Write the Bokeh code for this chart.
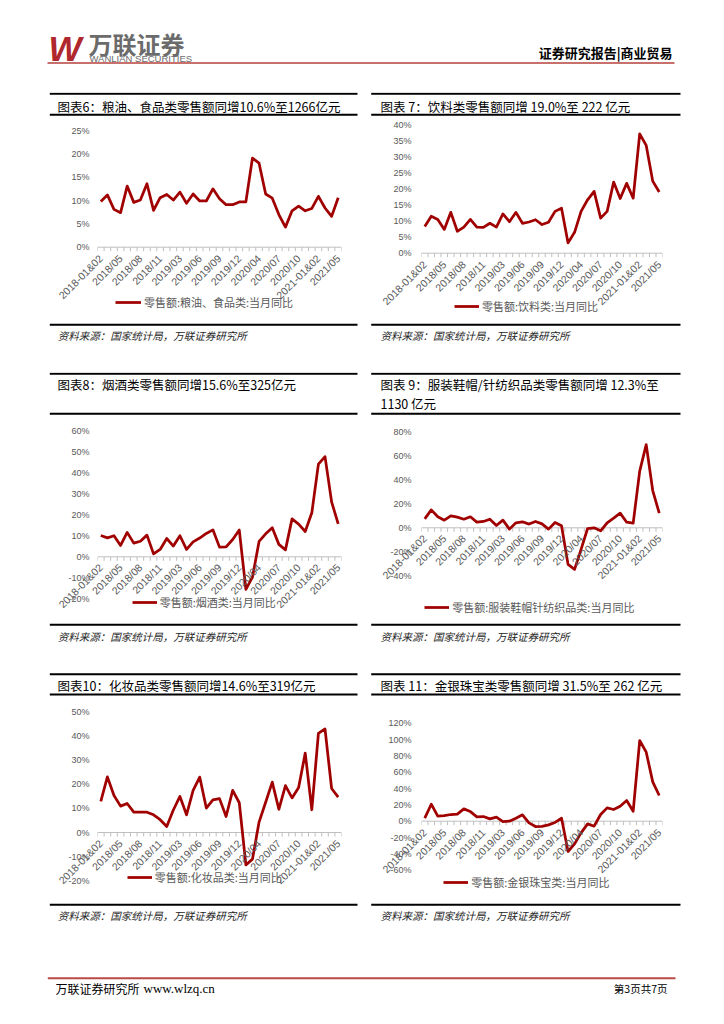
from math import pi
from bokeh.plotting import figure
from bokeh.models import (Range1d, FixedTicker, PrintfTickFormatter, Span)
from bokeh.layouts import column, row
from bokeh.core.properties import value
from bokeh.embed import file_html
from bokeh.resources import INLINE

# ---------------- data ----------------
categories = [
    "2018-01&02", "2018/03", "2018/04", "2018/05", "2018/06", "2018/07", "2018/08",
    "2018/09", "2018/10", "2018/11", "2018/12",
    "2019-01&02", "2019/03", "2019/04", "2019/05", "2019/06", "2019/07", "2019/08",
    "2019/09", "2019/10", "2019/11", "2019/12",
    "2020-01&02", "2020/03", "2020/04", "2020/05", "2020/06", "2020/07", "2020/08",
    "2020/09", "2020/10", "2020/11", "2020/12",
    "2021-01&02", "2021/03", "2021/04", "2021/05",
]
tick_labels = ["2018-01&02", "2018/05", "2018/08", "2018/11", "2019/03", "2019/06",
               "2019/09", "2019/12", "2020/04", "2020/07", "2020/10", "2021-01&02", "2021/05"]

food = [9.8, 11.2, 8.1, 7.4, 13.1, 9.6, 10.1, 13.6, 7.9, 10.6, 11.3, 10.1, 11.8, 9.4,
        11.4, 9.9, 9.9, 12.5, 10.4, 9.1, 9.1, 9.7, 9.7, 19.1, 18.0, 11.4, 10.5, 7.0,
        4.3, 7.8, 8.8, 7.8, 8.3, 10.9, 8.4, 6.6, 10.6]
beverage = [8.3, 11.5, 10.5, 7.4, 12.7, 6.8, 8.1, 10.5, 8.1, 8.0, 9.3, 8.1, 12.2, 9.8,
            12.7, 9.3, 9.7, 10.4, 8.9, 9.6, 13.0, 14.0, 3.2, 6.5, 13.0, 16.6, 19.2,
            10.9, 13.0, 22.1, 17.0, 21.7, 17.1, 37.1, 33.5, 22.4, 19.0]
tobacco = [10.1, 9.0, 10.0, 5.4, 11.6, 6.5, 7.4, 10.3, 1.4, 3.5, 8.7, 5.1, 10.0, 3.5,
           7.1, 8.9, 11.1, 12.8, 4.6, 4.7, 8.2, 12.7, -15.5, -9.7, 7.3, 10.9, 13.8,
           5.9, 3.3, 18.0, 15.5, 12.0, 20.9, 44.0, 47.6, 26.1, 15.6]
apparel = [7.5, 15.0, 9.2, 6.4, 10.0, 8.9, 7.2, 9.2, 4.7, 5.3, 7.2, 1.9, 6.4, -1.1,
           4.2, 5.0, 3.1, 5.3, 3.3, -1.1, 4.5, 1.7, -30.6, -34.8, -18.0, -0.6, 0.0,
           -2.5, 4.2, 8.1, 12.3, 4.7, 3.9, 47.4, 69.6, 31.2, 12.3]
cosmetics = [12.9, 23.0, 15.3, 10.9, 12.0, 8.4, 8.4, 8.4, 7.3, 5.3, 2.5, 9.3, 14.9, 7.3,
             17.4, 22.9, 10.1, 13.5, 14.0, 6.6, 17.4, 12.3, -13.4, -11.0, 4.3, 12.5,
             20.8, 9.6, 19.4, 14.3, 18.6, 32.8, 9.4, 41.0, 42.8, 18.2, 14.6]
jewelry = [3.7, 20.8, 6.1, 6.9, 8.2, 8.6, 15.1, 11.8, 5.3, 5.7, 2.9, 4.9, -0.4, 0.0,
           3.7, 7.8, -2.0, -6.5, -6.3, -4.5, -1.5, 3.6, -37.1, -27.8, -14.3, -3.3,
           -6.1, 8.2, 16.3, 14.3, 18.4, 25.3, 12.2, 98.8, 84.5, 48.2, 31.5]

titles = {
    6: "图表6：粮油、食品类零售额同增10.6%至1266亿元",
    7: "图表 7：饮料类零售额同增 19.0%至 222 亿元",
    8: "图表8：烟酒类零售额同增15.6%至325亿元",
    9: "图表 9：服装鞋帽/针纺织品类零售额同增  12.3%至",
    "9b": "1130 亿元",
    10: "图表10：化妆品类零售额同增14.6%至319亿元",
    11: "图表 11：金银珠宝类零售额同增 31.5%至 262 亿元",
}
legend_labels = {
    6: "零售额:粮油、食品类:当月同比",
    7: "零售额:饮料类:当月同比",
    8: "零售额:烟酒类:当月同比",
    9: "零售额:服装鞋帽针纺织品类:当月同比",
    10: "零售额:化妆品类:当月同比",
    11: "零售额:金银珠宝类:当月同比",
}
source_text = "资料来源：国家统计局，万联证券研究所"

# category positions on the x scale (one slot per month)
positions = list(range(len(categories)))
boundaries = [i - 0.5 for i in positions] + [positions[-1] + 0.5]
tick_pos = [categories.index(t) for t in tick_labels]

# ---------------- style ----------------
RED = "#A00000"
GRAY = "#595959"
AXIS_GRAY = "#BFBFBF"
CJK = "Noto Sans CJK SC"
LATIN = "Liberation Sans"
PAGE_W = 716
ROW_H = 206


def strip(height):
    p = figure(width=PAGE_W, height=height, x_range=Range1d(0, PAGE_W),
               y_range=Range1d(height, 0), x_axis_location=None, y_axis_location=None,
               toolbar_location=None, output_backend="svg", min_border=0,
               outline_line_color=None)
    p.grid.visible = False
    return p


def txt(p, x, y, s, size, font=CJK, color="black", align="left",
        baseline="middle", style="normal"):
    p.text(x=[x], y=[y], text=[s], text_font=value(font), text_font_size=value(size),
           text_color=color, text_align=align, text_baseline=baseline,
           text_font_style=style)


def rule(p, x0, x1, y, w=2, color="black"):
    p.segment(x0=[x0], y0=[y], x1=[x1], y1=[y], line_color=color, line_width=w)


LEFT = dict(width=364, bl=97, br=23, frame_left=97, standoff=8)
RIGHT = dict(width=352, bl=57, br=54, frame_left=421, standoff=10)
PANELS = ((49.3, 357), (370.7, 680))


def chart(side, row_top, values, vmin, vmax, step, px_top, px_zero, label,
          leg_left, leg_y, leg_w):
    frame_top = row_top + 2
    frame_bottom = row_top + ROW_H - 2
    ppu = (px_zero - px_top) / vmax
    y1 = (px_zero - frame_top) / ppu
    y0 = (px_zero - frame_bottom) / ppu
    p = figure(width=side["width"], height=ROW_H,
               x_range=Range1d(boundaries[0], boundaries[-1]),
               y_range=Range1d(y0, y1), x_axis_location="below",
               toolbar_location=None, output_backend="svg",
               min_border_left=side["bl"], min_border_right=side["br"],
               min_border_top=2, min_border_bottom=2, outline_line_color=None)
    p.grid.visible = False

    ax = p.yaxis[0]
    ax.ticker = FixedTicker(ticks=list(range(vmin, vmax + 1, step)))
    ax.formatter = PrintfTickFormatter(format="%d%%")
    ax.axis_line_color = None
    ax.major_tick_line_color = None
    ax.minor_tick_line_color = None
    ax.major_tick_out = 0
    ax.major_tick_in = 0
    ax.major_label_standoff = side["standoff"]
    ax.major_label_text_font = LATIN
    ax.major_label_text_font_size = "9px"
    ax.major_label_text_color = GRAY

    xa = p.xaxis[0]
    xa.ticker = FixedTicker(ticks=tick_pos, minor_ticks=[])
    xa.major_label_overrides = {i: t for i, t in zip(tick_pos, tick_labels)}
    xa.axis_line_color = None
    xa.major_tick_line_color = None
    xa.minor_tick_line_color = None
    xa.major_tick_out = 0
    xa.major_tick_in = 0
    xa.major_label_orientation = pi / 4
    xa.major_label_standoff = int(round(-(frame_bottom - px_zero - 9)))
    xa.major_label_text_font = LATIN
    xa.major_label_text_font_size = "10.5px"
    xa.major_label_text_color = GRAY

    p.add_layout(Span(location=0, dimension="width", line_color=AXIS_GRAY,
                      line_width=1, level="underlay"))
    p.ray(x=boundaries, y=0, length=4, length_units="screen",
          angle=-pi / 2, line_color=AXIS_GRAY, line_width=1)

    p.line(x=positions, y=values, line_color=RED, line_width=2.75,
           line_join="round", legend_label=label)

    item_h = 18
    lg = p.legend[0]
    lg.location = (leg_left - side["frame_left"], (frame_bottom - leg_y) - item_h / 2)
    lg.margin = 0
    lg.padding = 0
    lg.spacing = 0
    lg.border_line_color = None
    lg.background_fill_alpha = 0
    lg.glyph_width = leg_w
    lg.glyph_height = item_h
    lg.label_height = item_h
    lg.label_standoff = 3
    lg.label_text_font = CJK
    lg.label_text_font_size = "11px"
    lg.label_text_color = GRAY
    return p


def title_strip(height, top_y, bottom_y):
    p = strip(height)
    for x0, x1 in PANELS:
        rule(p, x0, x1, top_y)
        rule(p, x0, x1, bottom_y)
    return p


def source_strip(height, rule_y, text_y):
    p = strip(height)
    for x0, x1 in PANELS:
        rule(p, x0, x1, rule_y)
    txt(p, 57.3, text_y, source_text, "10.5px", color="#262626", style="italic")
    txt(p, 380, text_y, source_text, "10.5px", color="#262626", style="italic")
    return p


# ---------------- header ----------------
header = strip(92)
txt(header, 48, 48, "W", "35px", font=LATIN, color="#B0272D", style="bold italic")
txt(header, 88, 42.5, "万联证券", "24px", color="#6B6B6B", style="bold")
txt(header, 89, 58, "WANLIAN SECURITIES", "9.5px", font=LATIN, color="#6B6B6B")
txt(header, 672, 52, "证券研究报告|商业贸易", "13px", color="black", align="right",
    style="bold")
rule(header, 47, 674, 62.5, w=1.5, color="#B5413B")

# ---------------- row 1 ----------------
t1 = title_strip(24, 1.3, 22.3)
txt(t1, 57, 13.5, titles[6], "12.5px")
txt(t1, 380, 13.5, titles[7], "12.5px")
c6 = chart(LEFT, 116, food, 0, 25, 5, 130.0, 246.7, legend_labels[6], 115, 301.7, 26)
c7 = chart(RIGHT, 116, beverage, 0, 40, 5, 124.0, 252.7, legend_labels[7], 454, 305.7, 25)
s1 = source_strip(50, 2.3, 13.3)

# ---------------- row 2 ----------------
t2 = title_strip(44, 1.3, 41.3)
txt(t2, 57, 12, titles[8], "12.5px")
txt(t2, 380, 12, titles[9], "12.5px")
txt(t2, 380, 31.3, titles["9b"], "12.5px")
c8 = chart(LEFT, 416, tobacco, -20, 60, 10, 430.0, 556.3, legend_labels[8], 131.7, 601.7, 25)
c9 = chart(RIGHT, 416, apparel, -40, 80, 20, 431.7, 527.3, legend_labels[9], 424.3, 606.7, 25)
s2 = source_strip(50, 2.3, 13.7)

# ---------------- row 3 ----------------
t3 = title_strip(24, 1.7, 22)
txt(t3, 57, 12.5, titles[10], "12.5px")
txt(t3, 380, 12.5, titles[11], "12.5px")
c10 = chart(LEFT, 696, cosmetics, -20, 50, 10, 711.0, 832.0, legend_labels[10], 126.7, 877.3, 25)
c11 = chart(RIGHT, 696, jewelry, -60, 120, 20, 722.7, 820.7, legend_labels[11], 443.3, 882.3, 25)
s3 = source_strip(68, 2.3, 13.3)

# ---------------- footer ----------------
footer = strip(30)
rule(footer, 47.3, 675, 7.7, w=2, color="#B94A48")
txt(footer, 55, 18.3, "万联证券研究所", "12px")
txt(footer, 143, 18.3, "www.wlzq.cn", "13px", font="Liberation Serif")
txt(footer, 667, 18.3, "第3页共7页", "10.5px", align="right")

page = column(header, t1, row(c6, c7), s1, t2, row(c8, c9), s2, t3, row(c10, c11), s3,
              footer, spacing=0)

open("out.html", "w").write(file_html(page, INLINE))
